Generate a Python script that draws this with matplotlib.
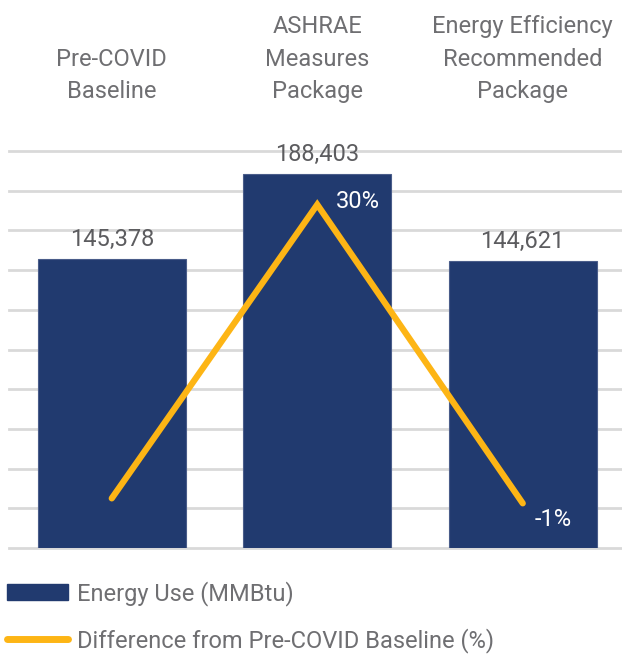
import matplotlib
matplotlib.use("Agg")
import matplotlib.pyplot as plt
from matplotlib.lines import Line2D
from matplotlib.patches import Patch

plt.rcParams["font.family"] = ["Roboto", "DejaVu Sans"]

categories = ["Pre-COVID\nBaseline", "ASHRAE\nMeasures\nPackage",
              "Energy Efficiency\nRecommended\nPackage"]
energy_use = [145378, 188403, 144621]
pct_diff = [0.0, 29.6, -0.5]
pct_labels = [None, "30%", "-1%"]

BAR_C  = "#213A6F"
LINE_C = "#FDB515"
TXT_C  = "#6F6F72"
VAL_C  = "#5C5C5F"
GRID_C = "#D9D9D9"
FS = 17

W, H = 622, 655
fig = plt.figure(figsize=(W / 100, H / 100), dpi=100)
ax = fig.add_axes([9 / W, (H - 548) / H, 616.5 / W, 397 / H])

x = range(len(categories))
bars = ax.bar(x, energy_use, width=0.72, color=BAR_C, edgecolor="#4A5D8A",
              linewidth=0.8, zorder=2)
ax.set_xlim(-0.5, 2.5)
ax.set_ylim(0, 200000)
ax.set_yticks(range(0, 200001, 20000))
ax.yaxis.grid(True, color=GRID_C, linewidth=2)
for gl in ax.get_ygridlines():
    gl.set_clip_on(False)
ax.set_axisbelow(True)
for s in ax.spines.values():
    s.set_visible(False)

# category labels on top
ax.xaxis.tick_top()
ax.set_xticks(list(x))
ax.set_xticklabels(categories, fontsize=FS, color=TXT_C, linespacing=1.52)
ax.tick_params(axis="x", top=False, pad=31)

# value labels above bars
for b, v in zip(bars, energy_use):
    ax.annotate(f"{v:,}", (b.get_x() + b.get_width() / 2, v),
                xytext=(0, 13), textcoords="offset pixels",
                ha="center", va="baseline", fontsize=FS, color=VAL_C)

# percentage line on secondary axis
ax2 = ax.twinx()
ax2.set_ylim(-5, 35)
ax2.plot(list(x), pct_diff, color=LINE_C, linewidth=4.5,
         solid_capstyle="round", solid_joinstyle="miter", zorder=3)
ax2.set_axis_off()
ax.tick_params(axis="y", left=False, right=False, labelleft=False)
offsets = [None, (19, 3), (12, -16)]
for xi, yi, lab, off in zip(x, pct_diff, pct_labels, offsets):
    if lab:
        ax2.annotate(lab, (xi, yi), xytext=off, textcoords="offset pixels",
                     ha="left", va="center", fontsize=FS, color="white")

handles = [Patch(facecolor=BAR_C, edgecolor=BAR_C),
           Line2D([0], [0], color=LINE_C, linewidth=5, solid_capstyle="round")]
fig.legend(handles, ["Energy Use (MMBtu)", "Difference from Pre-COVID Baseline (%)"],
           loc="lower left", bbox_to_anchor=(7 / W, 2 / H), frameon=False,
           fontsize=FS, labelcolor=TXT_C, handlelength=2.6, handleheight=0.64,
           handletextpad=0.35, labelspacing=0.95, borderpad=0, borderaxespad=0)

fig.savefig("out.png", dpi=100)
